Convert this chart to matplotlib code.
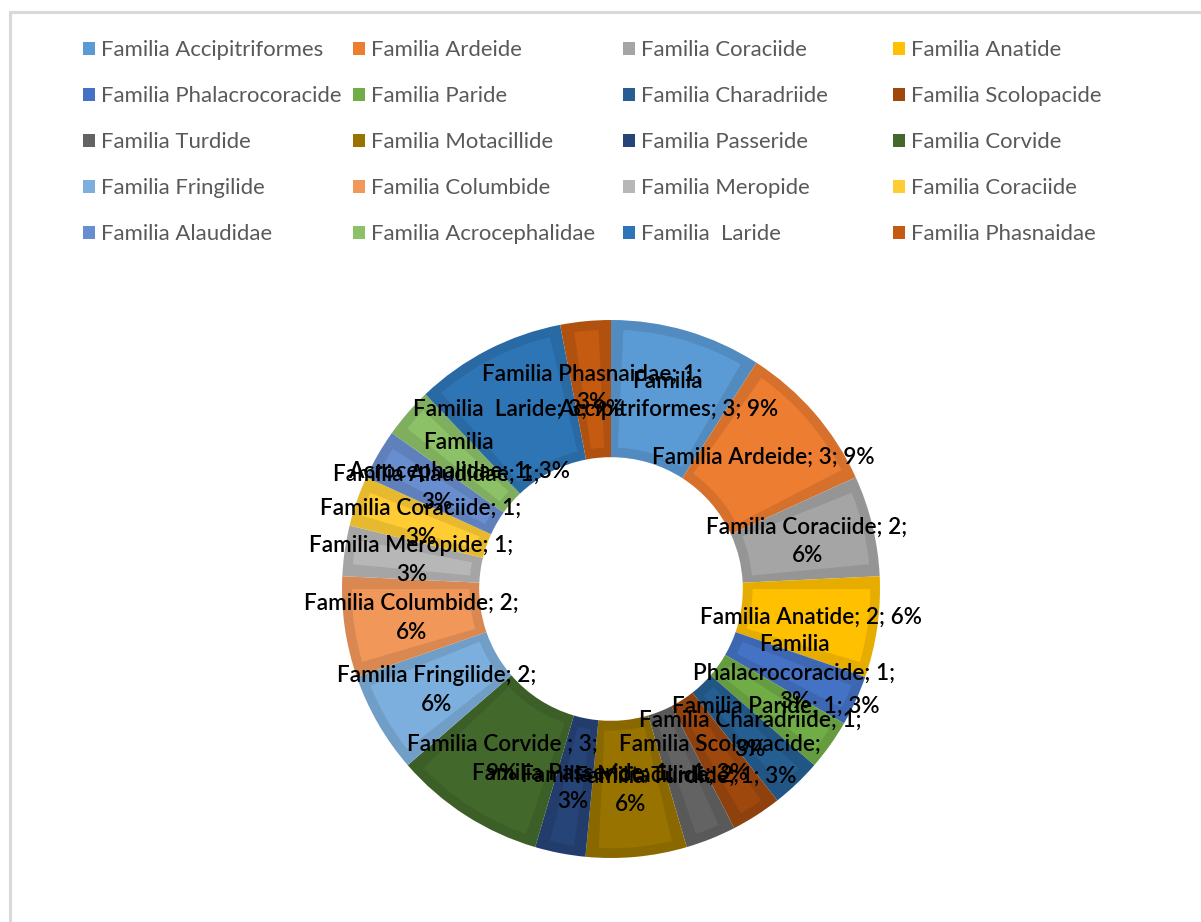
import numpy as np
import matplotlib
matplotlib.use("Agg")
import matplotlib.pyplot as plt
from matplotlib.patches import Wedge, Rectangle, Patch
from matplotlib.textpath import TextPath
from matplotlib.font_manager import FontProperties
from matplotlib.colors import to_rgb

plt.rcParams['font.family'] = ['Lato', 'DejaVu Sans']

families = ["Familia Accipitriformes", "Familia Ardeide", "Familia Coraciide",
            "Familia Anatide", "Familia Phalacrocoracide", "Familia Paride",
            "Familia Charadriide", "Familia Scolopacide", "Familia Turdide",
            "Familia Motacillide", "Familia Passeride", "Familia Corvide ",
            "Familia Fringilide", "Familia Columbide", "Familia Meropide",
            "Familia Coraciide", "Familia Alaudidae", "Familia Acrocephalidae",
            "Familia  Laride", "Familia Phasnaidae"]
counts = [3, 3, 2, 2, 1, 1, 1, 1, 1, 2, 1, 3, 2, 2, 1, 1, 1, 1, 3, 1]
colors = ["#5B9BD5", "#ED7D31", "#A5A5A5", "#FFC000", "#4472C4", "#70AD47",
          "#255E91", "#9E480E", "#636363", "#997300", "#264478", "#43682B",
          "#7CAFDD", "#F1975A", "#B7B7B7", "#FFCD33", "#698ED0", "#8CC168",
          "#2E75B6", "#C55A11"]

DPI = 100
W, H = 1201, 922
fig = plt.figure(figsize=(W / DPI, H / DPI), dpi=DPI)

# grey chart frame (cut by the image edge on right/bottom)
fig.patches.append(Rectangle((10 / W, -0.05), 1.2, (H - 12) / H + 0.05,
                             transform=fig.transFigure, fill=False,
                             edgecolor="#D9D9D9", linewidth=2.2))

ax = fig.add_axes([342 / W, 64 / H, 538 / W, 538 / H])

dark = [tuple(c * 0.9 for c in to_rgb(col)) for col in colors]
wedges, _ = ax.pie(counts, colors=dark, startangle=90, counterclock=False,
                   radius=1.0, wedgeprops=dict(width=0.51, linewidth=0))
ax.set_xlim(-1, 1)
ax.set_ylim(-1, 1)
ax.axis('off')

# inner lighter face of each segment
d = 0.036
for w, col in zip(wedges, colors):
    da = np.degrees(d / 0.75)
    ax.add_patch(Wedge((0, 0), w.r - d, w.theta1 + da, w.theta2 - da,
                       width=w.width - 2 * d, facecolor=col, linewidth=0))

# data labels
lab_fs = 16.2
fp = FontProperties(family='Lato', weight='semibold', size=lab_fs)


def text_px(s):
    return TextPath((0, 0), s, size=lab_fs, prop=fp).get_extents().width * DPI / 72


def wrap(s, maxpx=222):
    words = s.split(' ')
    lines, cur = [], None
    for wd in words:
        trial = wd if cur is None else cur + ' ' + wd
        if cur is None or text_px(trial) <= maxpx:
            cur = trial
        else:
            lines.append(cur)
            cur = wd
    lines.append(cur)
    return '\n'.join(lines)


total = sum(counts)
for w, name, v in zip(wedges, families, counts):
    ang = np.radians((w.theta1 + w.theta2) / 2)
    pct = int(round(100 * v / total))
    s = wrap(f"{name}; {v}; {pct}%")
    ax.text(0.75 * np.cos(ang), 0.75 * np.sin(ang), s, ha='center', va='center',
            multialignment='center', fontproperties=fp, color='black',
            linespacing=1.45, zorder=5)

# legend: 4 columns laid out row by row
col_x = [83, 353, 623, 893]
for c in range(4):
    handles = [Patch(facecolor=colors[i], edgecolor='none', label=families[i])
               for i in range(c, len(families), 4)]
    fig.legend(handles=handles, loc='upper left',
               bbox_to_anchor=(col_x[c] / W, (H - 40) / H),
               frameon=False, fontsize=15.9, labelcolor='#595959',
               handlelength=0.55, handleheight=0.55, handletextpad=0.25,
               labelspacing=1.18, borderaxespad=0, borderpad=0)

fig.savefig("out.png", dpi=DPI)
